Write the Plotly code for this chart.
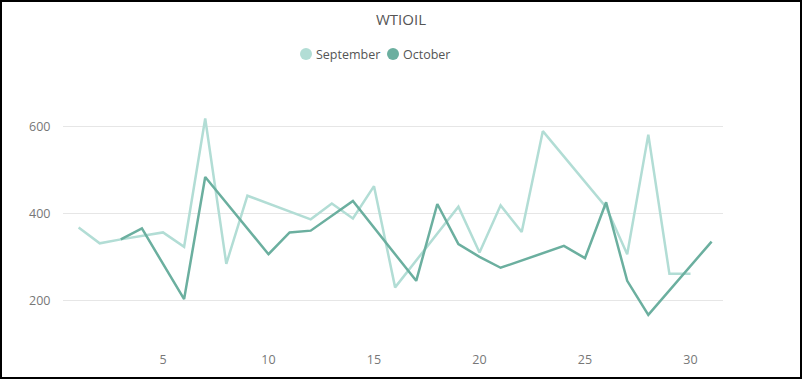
import plotly.graph_objects as go

days = list(range(1, 32))
september = [368, 332, 341, 349, 357, 324, 618, 285, 441, None, None, 387, 423, 389, 463,
             231, None, None, 416, 311, 419, 358, 589, None, None, 415, 307, 581, 262, 262, None]
october = [None, None, 341, 366, None, 204, 484, None, None, 307, 357, 361, None, 429, None,
           None, 246, 422, 330, 301, 276, None, None, 326, 298, 426, 246, 168, None, None, 336]
series_names = ["September", "October"]

SEP_COLOR = "#B2DDD5"
OCT_COLOR = "#6BAF9F"
FONT = "Segoe UI, Open Sans, sans-serif"

fig = go.Figure()
fig.add_trace(go.Scatter(x=days, y=september, mode="lines", connectgaps=True,
                         line=dict(color=SEP_COLOR, width=2.5), showlegend=False, name=series_names[0]))
fig.add_trace(go.Scatter(x=days, y=october, mode="lines", connectgaps=True,
                         line=dict(color=OCT_COLOR, width=2.5), showlegend=False, name=series_names[1]))

W, H = 802, 379
ml, mr, mt, mb = 63, 79, 98, 41
pw, ph = W - ml - mr, H - mt - mb


def px_x(p):
    return (p - ml) / pw


def px_y(p):
    return (H - mb - p) / ph


# custom legend (circle + text), positioned in pixels
legend_items = [(series_names[0], SEP_COLOR, 306), (series_names[1], OCT_COLOR, 393)]
shapes = []
annotations = []
ly, r = 54, 6
for name, col, cx in legend_items:
    shapes.append(dict(type="circle", xref="paper", yref="paper",
                       x0=px_x(cx - r), x1=px_x(cx + r), y0=px_y(ly + r), y1=px_y(ly - r),
                       fillcolor=col, line=dict(width=0)))
    annotations.append(dict(text=name, xref="paper", yref="paper", x=px_x(cx + 8), y=px_y(ly),
                            xanchor="left", yanchor="middle", showarrow=False,
                            font=dict(size=12.5, color="#555555", family=FONT)))

shapes.append(dict(type="rect", xref="paper", yref="paper",
                   x0=px_x(1), x1=px_x(W - 1), y0=px_y(H - 1), y1=px_y(1),
                   line=dict(color="black", width=2), fillcolor="rgba(0,0,0,0)", layer="above"))

fig.update_layout(
    width=W, height=H,
    margin=dict(l=ml, r=mr, t=mt, b=mb),
    paper_bgcolor="white", plot_bgcolor="white",
    font=dict(family=FONT, color="#666666", size=12),
    title=dict(text="WTIOIL", x=0.5, xanchor="center", y=1 - 20 / H, yanchor="middle",
               font=dict(size=15, color="#555555", family=FONT)),
    showlegend=False,
    xaxis=dict(range=[0.26, 31.54], tickvals=[5, 10, 15, 20, 25, 30], showgrid=False,
               zeroline=False, showline=False, ticks="outside", ticklen=10,
               tickcolor="rgba(0,0,0,0)", tickfont=dict(size=12.5, color="#777777"),
               automargin=False),
    yaxis=dict(range=[115, 665], tickvals=[200, 400, 600], showgrid=True, gridcolor="#E6E6E6",
               gridwidth=1, zeroline=False, showline=False, ticks="outside", ticklen=9,
               tickcolor="rgba(0,0,0,0)", tickfont=dict(size=12.5, color="#777777"),
               automargin=False),
    shapes=shapes,
    annotations=annotations,
)

fig.write_html("out.html", config={"displayModeBar": False},
               post_script="document.body.style.margin='0';document.body.style.padding='0';"
                           "document.body.style.overflow='hidden';")
